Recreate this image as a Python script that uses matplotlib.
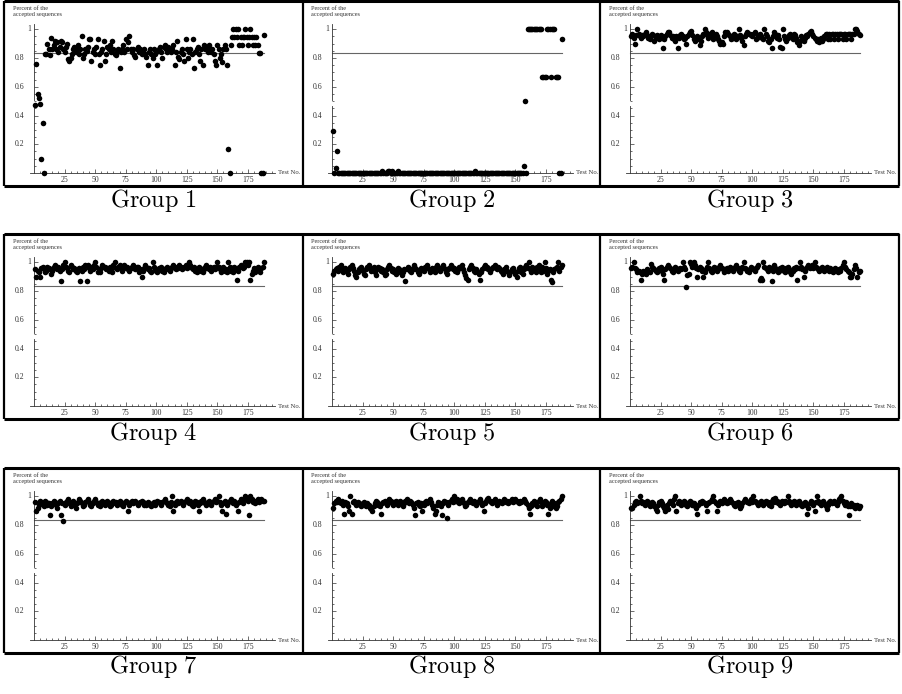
import numpy as np
import matplotlib
matplotlib.use('Agg')
import matplotlib.pyplot as plt

plt.rcParams['mathtext.fontset'] = 'cm'
plt.rcParams['font.family'] = ['Liberation Serif', 'DejaVu Serif']

# Percent of accepted sequences for each of the 188 tests, per group
group1 = [47, 76, 55, 52, 48, 10, 35, 0,
          83, 83, 90, 86, 82, 94, 86, 89, 92, 86, 91, 84,
          88, 92, 91, 86, 84, 88, 90, 79, 78, 80, 83, 86, 88, 84, 86, 89, 83, 86, 95, 80,
          83, 86, 85, 88, 93, 93, 78, 84, 86, 83, 88, 93, 83, 75, 84, 86, 92, 78, 83, 88,
          86, 89, 84, 92, 86, 83, 82, 84, 86, 73, 84, 86, 89, 84, 93, 86, 91, 95, 86, 84,
          86, 82, 81, 86, 88, 84, 86, 83, 84, 86, 83, 81, 75, 84, 86, 83, 80, 86, 83, 84,
          75, 86, 88, 84, 80, 88, 89, 86, 84, 88, 86, 84, 86, 89, 75, 84, 92, 81, 79, 84,
          86, 83, 78, 93, 86, 80, 84, 86, 83, 93, 73, 84, 86, 88, 83, 78, 86, 75, 89, 86,
          88, 84, 89, 86, 84, 86, 83, 78, 75, 89, 86, 80, 83, 77, 86, 89,
          86, 75, 17, 0,
          88.9, 94.4, 100, 94.4, 100, 94.4, 100, 88.9, 94.4, 88.9, 94.4, 94.4, 100,
          94.4, 88.9, 94.4, 100, 94.4, 88.9, 94.4, 88.9, 94.4, 88.9, 83.3, 83.3,
          0, 0, 96]

group2 = [29, 0, 3.5, 15,
          0, 0, 0, 0, 0, 0, 0, 0, 0, 0, 0, 0, 0, 0, 0, 0,
          0, 0, 0, 0, 0, 0, 0, 0, 0, 0, 0, 0, 0, 0, 0, 0, 0, 0, 0, 0,
          1.5, 0, 0, 0, 0, 1.5, 1.5, 0, 1.5, 0, 0, 0, 0, 1.5, 0, 0, 0, 0, 0, 0,
          0, 0, 0, 0, 0, 0, 0, 0, 0, 0, 0, 0, 0, 0, 0, 0, 0, 0, 0, 0,
          0, 0, 0, 0, 0, 0, 0, 0, 0, 0, 0, 0, 0, 0, 0, 0, 0, 0, 0, 0,
          0, 0, 0, 0, 0, 0, 0, 0, 0, 0, 0, 0, 0, 0, 0, 0, 1.5, 0, 0, 0,
          0, 0, 0, 0, 0, 0, 0, 0, 0, 0, 0, 0, 0, 0, 0, 0, 0, 0, 0, 0,
          0, 0, 0, 0, 0, 0, 0, 0, 0, 0, 0, 0, 0, 0, 0, 0,
          5, 50, 0,
          100, 100, 100, 100, 100, 100, 100, 100, 100, 100, 100, 100,
          66.7, 66.7, 66.7, 66.7, 100, 100, 100, 66.7, 100, 100, 100,
          66.7, 66.7, 66.7, 0, 0, 93]

group3 = [95, 97, 94, 90, 96, 100, 97, 95, 94, 96, 95, 97, 98, 96, 94, 93, 95, 97, 96, 92,
          94, 96, 95, 93, 96, 94, 87, 93, 95, 97, 98, 98, 96, 94, 95, 93, 92, 95, 87, 94,
          96, 97, 95, 93, 94, 90, 95, 97, 98, 99, 96, 93, 92, 94, 95, 93, 89, 92, 95, 97,
          100, 98, 96, 94, 97, 95, 98, 93, 96, 97, 95, 93, 92, 90, 91, 90, 95, 98, 98, 97,
          96, 95, 93, 94, 97, 96, 93, 95, 100, 96, 94, 92, 89, 95, 97, 98, 97, 97, 96, 95,
          97, 98, 93, 94, 96, 97, 95, 94, 93, 100, 97, 95, 92, 91, 93, 87, 95, 98, 97, 94,
          96, 93, 88, 87, 100, 95, 93, 92, 94, 96, 97, 95, 93, 97, 96, 94, 91, 89, 92, 95,
          93, 92, 94, 96, 95, 97, 98, 99, 97, 95, 94, 93, 92, 93, 91, 94, 92, 93, 95, 97,
          97, 93, 97, 93, 97, 97, 93, 97, 97, 93, 97, 97, 97, 93, 97, 97, 93, 97, 97, 97,
          93, 97, 97, 100, 100, 99, 97, 96]

group4 = [95, 90, 94, 93, 90, 96, 97, 95, 93, 94, 97, 96, 95, 92, 94, 97, 98, 96, 95, 97,
          94, 87, 95, 98, 100, 97, 96, 94, 93, 98, 97, 95, 96, 94, 93, 95, 96, 87, 94, 97,
          95, 98, 87, 98, 96, 94, 97, 95, 98, 100, 97, 93, 95, 93, 96, 98, 97, 97, 95, 96,
          94, 97, 95, 93, 98, 100, 96, 95, 97, 98, 96, 94, 97, 98, 96, 97, 95, 94, 96, 97,
          98, 96, 95, 97, 97, 93, 95, 90, 94, 96, 98, 97, 95, 96, 94, 93, 100, 97, 95, 94,
          93, 96, 95, 97, 94, 93, 95, 96, 97, 95, 94, 96, 97, 98, 96, 95, 97, 96, 98, 97,
          95, 96, 97, 98, 96, 97, 100, 98, 96, 95, 97, 94, 93, 95, 97, 96, 94, 93, 95, 97,
          98, 96, 95, 97, 94, 96, 97, 95, 97, 100, 97, 95, 93, 96, 97, 94, 95, 93, 100, 97,
          94, 96, 93, 97, 95, 88, 94, 97, 98, 97, 96, 97, 100, 100, 98, 100, 88, 92, 94, 96,
          93, 95, 97, 96, 93, 96, 97, 100]

group5 = [92, 94, 95, 96, 94, 97, 98, 96, 93, 95, 96, 94, 92, 95, 97, 98, 96, 94, 91, 90,
          93, 95, 96, 97, 94, 92, 91, 95, 97, 98, 96, 94, 95, 97, 93, 91, 95, 97, 96, 94,
          95, 93, 91, 92, 95, 97, 98, 96, 94, 95, 93, 92, 94, 96, 95, 93, 91, 93, 95, 87,
          95, 97, 96, 94, 93, 95, 98, 96, 95, 93, 92, 94, 96, 95, 94, 97, 96, 98, 95, 93,
          94, 96, 95, 93, 97, 98, 96, 94, 95, 97, 98, 96, 93, 92, 95, 96, 98, 97, 95, 96,
          94, 93, 95, 97, 96, 98, 95, 93, 91, 89, 88, 95, 97, 98, 96, 94, 93, 95, 94, 92,
          88, 93, 95, 97, 98, 96, 97, 95, 93, 95, 96, 97, 98, 96, 95, 97, 96, 94, 93, 92,
          95, 97, 94, 93, 91, 93, 95, 96, 94, 92, 90, 94, 96, 97, 93, 92, 95, 97, 98, 96,
          100, 95, 93, 97, 95, 96, 93, 97, 98, 95, 93, 97, 94, 100, 96, 92, 94, 95, 88, 86,
          93, 95, 96, 97, 100, 94, 97, 98]

group6 = [96, 97, 100, 96, 95, 93, 94, 93, 88, 92, 94, 93, 92, 95, 94, 93, 99, 97, 96, 95,
          94, 93, 94, 96, 97, 94, 92, 88, 95, 97, 98, 97, 96, 94, 93, 95, 97, 96, 94, 95,
          96, 95, 100, 97, 95, 83, 91, 92, 100, 99, 97, 100, 98, 96, 90, 95, 97, 96, 94, 90,
          93, 95, 97, 100, 96, 94, 93, 95, 97, 96, 94, 95, 97, 98, 96, 95, 93, 95, 96, 94,
          95, 97, 96, 94, 95, 97, 98, 96, 94, 93, 95, 97, 100, 96, 95, 94, 93, 95, 97, 96,
          95, 94, 96, 97, 98, 88, 89, 88, 100, 97, 96, 95, 94, 97, 96, 87, 94, 98, 96, 95,
          93, 94, 96, 97, 95, 94, 93, 96, 97, 95, 93, 92, 94, 96, 95, 97, 88, 96, 100, 97,
          95, 90, 94, 96, 97, 98, 96, 97, 98, 96, 100, 97, 96, 95, 94, 96, 97, 95, 94, 96,
          97, 95, 94, 96, 94, 93, 95, 96, 94, 93, 95, 94, 96, 98, 100, 97, 95, 94, 93, 90,
          90, 92, 95, 98, 96, 90, 93, 94]

group7 = [96, 90, 92, 94, 97, 96, 95, 93, 97, 96, 94, 95, 87, 93, 95, 97, 96, 94, 92, 95,
          97, 87, 95, 83, 94, 96, 97, 98, 95, 93, 96, 97, 94, 92, 95, 96, 98, 97, 95, 93,
          94, 96, 97, 98, 96, 94, 93, 95, 97, 98, 96, 94, 95, 93, 96, 97, 95, 94, 96, 97,
          95, 93, 94, 96, 97, 95, 96, 94, 95, 97, 96, 94, 93, 95, 97, 96, 90, 94, 96, 97,
          95, 96, 97, 95, 94, 95, 96, 97, 96, 94, 95, 94, 96, 95, 94, 93, 95, 96, 94, 96,
          97, 96, 95, 94, 96, 97, 98, 96, 95, 94, 93, 96, 100, 90, 94, 96, 97, 95, 96, 97,
          95, 94, 96, 97, 98, 96, 95, 97, 94, 93, 95, 97, 96, 94, 90, 95, 97, 98, 96, 95,
          94, 96, 97, 95, 94, 96, 97, 98, 96, 97, 100, 96, 94, 90, 95, 97, 88, 94, 96, 97,
          98, 96, 95, 97, 94, 95, 90, 96, 98, 97, 95, 98, 100, 99, 97, 87, 100, 98, 96, 97,
          95, 97, 98, 96, 97, 98, 97, 97]

group8 = [92, 95, 97, 96, 98, 96, 95, 97, 94, 88, 96, 95, 93, 90, 100, 88, 96, 97, 95, 94,
          96, 95, 94, 93, 95, 96, 94, 93, 95, 94, 92, 91, 90, 93, 95, 97, 96, 94, 93, 88,
          95, 96, 97, 95, 94, 96, 98, 97, 95, 94, 96, 97, 95, 94, 96, 97, 95, 93, 95, 97,
          98, 96, 95, 97, 96, 94, 92, 87, 95, 96, 94, 93, 95, 90, 94, 96, 97, 95, 97, 98,
          96, 94, 92, 88, 90, 94, 96, 95, 93, 87, 95, 97, 96, 85, 94, 96, 97, 98, 96, 100,
          97, 98, 96, 95, 97, 98, 96, 95, 93, 94, 96, 97, 98, 96, 95, 97, 96, 94, 95, 97,
          98, 96, 94, 90, 95, 97, 98, 99, 97, 96, 95, 97, 98, 96, 94, 95, 97, 96, 95, 97,
          98, 96, 97, 95, 96, 97, 98, 96, 97, 98, 97, 96, 95, 97, 96, 97, 98, 97, 95, 94,
          92, 88, 93, 95, 97, 96, 94, 93, 97, 98, 96, 93, 95, 97, 96, 94, 88, 92, 95, 97,
          93, 95, 92, 93, 96, 97, 98, 100]

group9 = [92, 92, 94, 96, 97, 95, 96, 100, 97, 95, 96, 94, 95, 97, 96, 93, 94, 96, 95, 93,
          91, 90, 94, 96, 97, 95, 93, 92, 90, 94, 91, 95, 97, 96, 94, 98, 100, 90, 95, 97,
          96, 94, 95, 97, 96, 94, 93, 95, 97, 96, 94, 95, 93, 92, 88, 94, 96, 95, 97, 96,
          95, 94, 90, 95, 96, 97, 98, 100, 97, 95, 90, 94, 96, 97, 95, 97, 98, 96, 95, 97,
          96, 98, 97, 95, 94, 93, 95, 96, 94, 92, 93, 95, 97, 98, 97, 96, 95, 97, 98, 96,
          100, 97, 96, 95, 94, 96, 97, 95, 94, 96, 97, 95, 96, 94, 93, 97, 98, 96, 99, 97,
          95, 96, 94, 97, 96, 95, 97, 96, 100, 97, 95, 94, 96, 97, 95, 94, 96, 97, 95, 94,
          93, 95, 96, 94, 88, 92, 95, 97, 96, 94, 90, 96, 100, 97, 95, 94, 96, 97, 95, 93,
          91, 94, 96, 97, 95, 96, 97, 95, 94, 96, 98, 99, 100, 97, 95, 94, 96, 93, 87, 93,
          95, 93, 94, 92, 93, 94, 92, 93]

groups = [group1, group2, group3, group4, group5, group6, group7, group8, group9]
titles = ['Group 1', 'Group 2', 'Group 3', 'Group 4', 'Group 5',
          'Group 6', 'Group 7', 'Group 8', 'Group 9']
threshold = 0.836
xticks = [25, 50, 75, 100, 125, 150, 175]
yticks = [0.2, 0.4, 0.6, 0.8, 1.0]
ytick_labels = ['0.2', '0.4', '0.6', '0.8', '1']

assert all(len(g) == 188 for g in groups), [len(g) for g in groups]

W, H = 902, 694
fig = plt.figure(figsize=(W / 100, H / 100), dpi=100)

# table rules + captions, in pixel coordinates
frame = fig.add_axes([0, 0, 1, 1])
frame.set_xlim(0, W)
frame.set_ylim(H, 0)
frame.axis('off')
col_edges = [4, 303, 600, 899]
row_tops = [1, 234, 468]
box_h = 185
for top in row_tops:
    for yy in (top, top + box_h):
        frame.plot([col_edges[0], col_edges[-1]], [yy, yy], color='black', lw=2.2,
                   solid_capstyle='butt')
    for xx in col_edges:
        frame.plot([xx, xx], [top, top + box_h], color='black', lw=1.6,
                   solid_capstyle='butt')

px_x = 1.222   # pixels per test
px_y = 143.7   # pixels per unit proportion
x0, x1 = -3.3, 197
y1 = 1.035
tick_col = '#333333'

for k, vals in enumerate(groups):
    r, c = divmod(k, 3)
    ox = 34 + 298 * c
    oy = row_tops[r] + 172
    left = ox + x0 * px_x
    ax = fig.add_axes([left / W, (H - oy) / H, (x1 - x0) * px_x / W, y1 * px_y / H])
    ax.patch.set_alpha(0)

    tests = np.arange(1, len(vals) + 1)
    ax.plot([0, len(vals)], [threshold, threshold], color='0.4', lw=0.8)
    ax.plot(tests, np.array(vals) / 100, 'o', color='black', ms=4.0, mew=0,
            clip_on=False, zorder=3)

    ax.set_xlim(x0, x1)
    ax.set_ylim(0, y1)
    ax.spines['top'].set_visible(False)
    ax.spines['right'].set_visible(False)
    ax.spines['left'].set_position(('data', 0))
    ax.spines['left'].set_bounds(0.51, y1)
    ax.plot([0, 0], [0, 0.465], color='0.2', lw=0.6, clip_on=False)
    for s in ('left', 'bottom'):
        ax.spines[s].set_linewidth(0.6)
        ax.spines[s].set_color('0.2')

    ax.set_xticks(xticks)
    ax.set_xticks(list(range(5, 196, 5)), minor=True)
    ax.set_yticks(yticks, labels=[])
    ax.set_yticks([v / 100 for v in range(5, 101, 5)], minor=True)
    ax.tick_params(which='both', direction='in', color='0.2', width=0.5)
    ax.tick_params(which='major', length=3)
    ax.tick_params(which='minor', length=1.6)
    ax.tick_params(axis='x', pad=2.5, labelsize=5.6, labelcolor=tick_col)

    for v, lab in zip(yticks, ytick_labels):
        off = -2.5 if lab == '1' else -10
        ax.annotate(lab, xy=(0, v), xytext=(off, 0), textcoords='offset pixels',
                    ha='right', va='center', fontsize=5.6, color=tick_col)
    ax.annotate('Test No.', xy=(x1, 0), xytext=(3, 0), textcoords='offset pixels',
                ha='left', va='center', fontsize=4.8, color=tick_col,
                annotation_clip=False)

    # axis title above the y axis
    frame.text(ox - 21, row_tops[r] + 7, 'Percent of the', fontsize=4.5,
               color=tick_col, ha='left', va='center')
    frame.text(ox - 21, row_tops[r] + 13.5, 'accepted sequences', fontsize=4.5,
               color=tick_col, ha='left', va='center')

    # caption below the cell
    cx = (col_edges[c] + col_edges[c + 1]) / 2
    num = titles[k].split()[1]
    frame.text(cx, row_tops[r] + box_h + 14, r'$\mathrm{Group\ ' + num + '}$',
               fontsize=17.5, ha='center', va='center', color='black')

fig.savefig('out.png', dpi=100)
